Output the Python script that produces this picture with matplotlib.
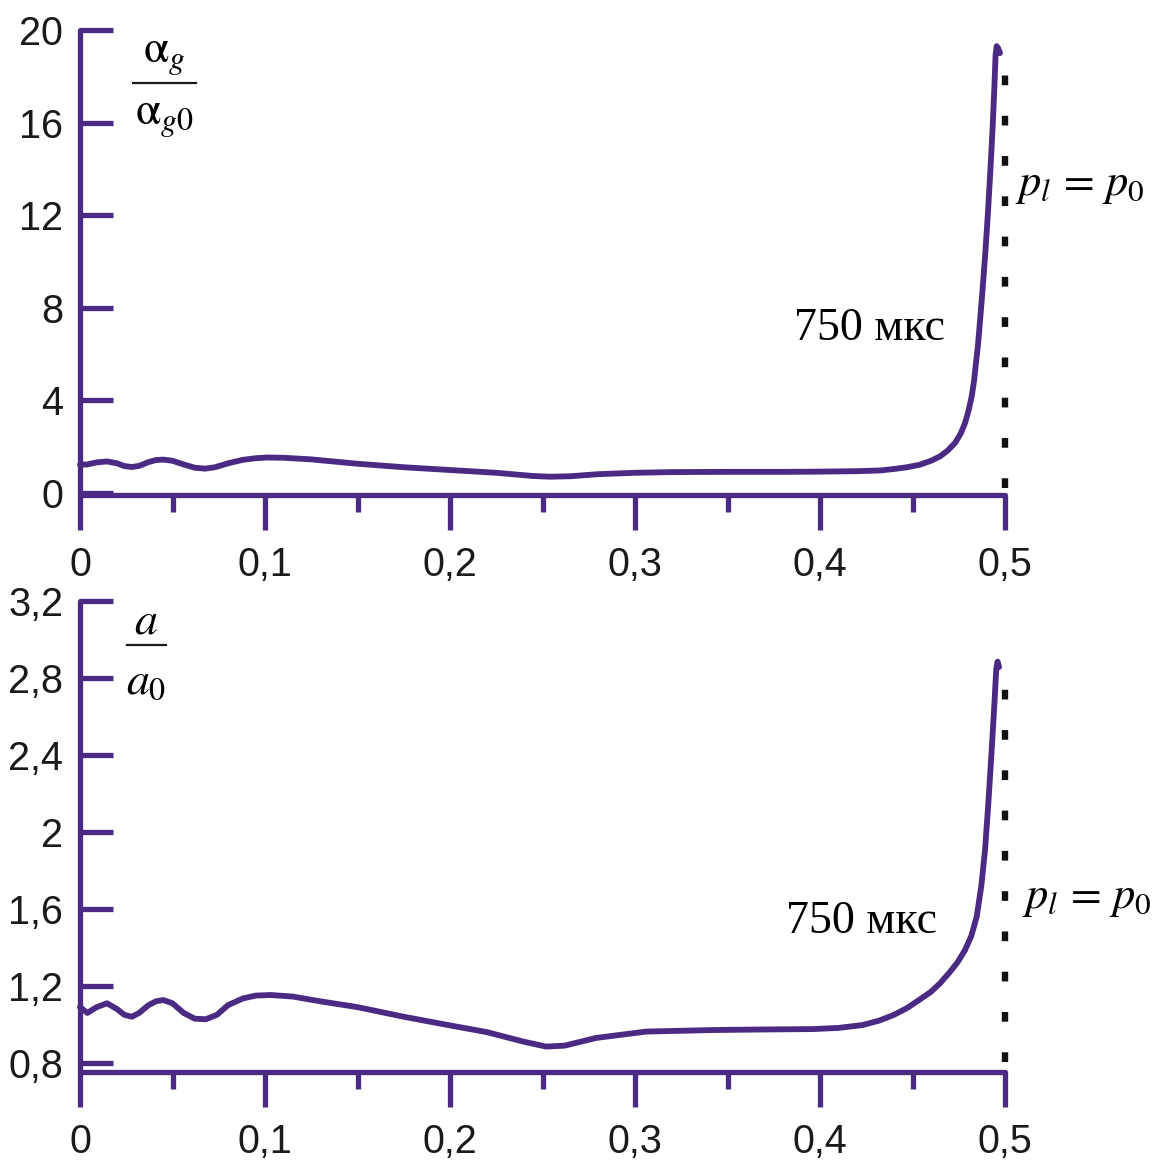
import matplotlib
matplotlib.use("Agg")
import matplotlib.pyplot as plt
from matplotlib.ticker import FixedLocator
from matplotlib.lines import Line2D

plt.rcParams['mathtext.fontset'] = 'stix'
plt.rcParams['lines.scale_dashes'] = False

# ---- data ----
x_top = [0, 0.004, 0.009, 0.0146, 0.020, 0.024, 0.028, 0.032, 0.037, 0.041,
         0.045, 0.050, 0.056, 0.062, 0.0676, 0.073, 0.080, 0.088, 0.095, 0.101,
         0.110, 0.125, 0.15, 0.175, 0.2, 0.225, 0.245, 0.254, 0.265, 0.28,
         0.30, 0.32, 0.35, 0.38, 0.40, 0.42, 0.4324, 0.4396, 0.447, 0.454,
         0.460, 0.4649, 0.469, 0.473, 0.476, 0.4784, 0.4803, 0.482, 0.4833, 0.4843,
         0.4853, 0.4861, 0.4877, 0.4893, 0.4907, 0.4920, 0.4932, 0.4942, 0.4949, 0.4955,
         0.4964, 0.4973]
y_top = [1.21, 1.22, 1.31, 1.35, 1.27, 1.15, 1.11, 1.16, 1.32, 1.41,
         1.43, 1.38, 1.22, 1.08, 1.04, 1.10, 1.27, 1.42, 1.49, 1.52,
         1.51, 1.44, 1.25, 1.10, 0.98, 0.86, 0.72, 0.69, 0.71, 0.80,
         0.86, 0.89, 0.90, 0.90, 0.91, 0.93, 0.96, 1.02, 1.10, 1.21,
         1.38, 1.57, 1.82, 2.15, 2.55, 3.01, 3.55, 4.16, 4.85, 5.6,
         6.3, 7.04, 8.6, 10.3, 12.0, 13.8, 15.6, 17.4, 18.9, 19.3,
         19.2, 19.0]

x_bot = [0, 0.004, 0.009, 0.0146, 0.020, 0.024, 0.028, 0.032, 0.037, 0.041,
         0.045, 0.050, 0.056, 0.062, 0.068, 0.074, 0.080, 0.088, 0.095, 0.103,
         0.115, 0.13, 0.15, 0.175, 0.2, 0.22, 0.24, 0.252, 0.262, 0.279,
         0.306, 0.342, 0.37, 0.396, 0.41, 0.423, 0.432, 0.44, 0.447, 0.454,
         0.460, 0.4649, 0.470, 0.4745, 0.4784, 0.4818, 0.4847, 0.4872, 0.4892, 0.4910,
         0.4928, 0.4943, 0.4953, 0.4960, 0.4968]
y_bot = [1.09, 1.06, 1.09, 1.11, 1.08, 1.05, 1.04, 1.06, 1.10, 1.12,
         1.127, 1.11, 1.06, 1.03, 1.027, 1.05, 1.10, 1.135, 1.15, 1.153,
         1.145, 1.12, 1.09, 1.04, 0.995, 0.96, 0.91, 0.885, 0.89, 0.93,
         0.963, 0.971, 0.974, 0.976, 0.982, 0.997, 1.02, 1.05, 1.085, 1.13,
         1.17, 1.214, 1.27, 1.325, 1.387, 1.46, 1.56, 1.72, 1.906, 2.15,
         2.426, 2.67, 2.85, 2.885, 2.857]

x_major = [0, 0.1, 0.2, 0.3, 0.4, 0.5]
x_major_labels = ['0', '0,1', '0,2', '0,3', '0,4', '0,5']
x_minor = [0.05, 0.15, 0.25, 0.35, 0.45]

y_top_ticks = [0, 4, 8, 12, 16, 20]
y_top_labels = ['0', '4', '8', '12', '16', '20']
y_bot_ticks = [0.8, 1.2, 1.6, 2.0, 2.4, 2.8, 3.2]
y_bot_labels = ['0,8', '1,2', '1,6', '2', '2,4', '2,8', '3,2']

boundary_x = 0.5
top_dash_y = [0.2, 18.4]
bot_dash_y = [0.805, 2.885]

PURPLE = '#4b2a84'
LW = 3.8
W, H = 1154, 1161

fig = plt.figure(figsize=(W / 100, H / 100), dpi=100)
ax1 = fig.add_axes([80 / W, 1 - 495 / H, 925 / W, 465 / H])
ax2 = fig.add_axes([80 / W, 1 - 1072 / H, 925 / W, 471 / H])


def style(ax, yticks, ylabels, ylim):
    ax.set_xlim(0, 0.5)
    ax.set_ylim(*ylim)
    for s in ['top', 'right']:
        ax.spines[s].set_visible(False)
    for s in ['left', 'bottom']:
        ax.spines[s].set_color(PURPLE)
        ax.spines[s].set_linewidth(LW)
        ax.spines[s].set_capstyle('round')
    ax.xaxis.set_major_locator(FixedLocator(x_major))
    ax.set_xticklabels(x_major_labels)
    ax.xaxis.set_minor_locator(FixedLocator(x_minor))
    ax.set_yticks(yticks)
    ax.set_yticklabels(ylabels)
    ax.tick_params(axis='x', which='major', direction='out', length=25,
                   width=LW, color=PURPLE, pad=12, labelsize=28.5)
    ax.tick_params(axis='x', which='minor', direction='out', length=12,
                   width=LW, color=PURPLE)
    ax.tick_params(axis='y', which='major', direction='in', length=24,
                   width=LW, color=PURPLE, pad=12, labelsize=28.5)
    for lab in ax.get_xticklabels() + ax.get_yticklabels():
        lab.set_fontfamily('Liberation Sans')
        lab.set_color('#1a1a1a')
    ax.patch.set_alpha(0)


style(ax1, y_top_ticks, y_top_labels, (-0.1, 20))
style(ax2, y_bot_ticks, y_bot_labels, (0.753, 3.2))

ax1.plot(x_top, y_top, color=PURPLE, lw=4.2, solid_capstyle='round',
         solid_joinstyle='round', clip_on=False, zorder=3)
ax2.plot(x_bot, y_bot, color=PURPLE, lw=4.2, solid_capstyle='round',
         solid_joinstyle='round', clip_on=False, zorder=3)

for ax, yy in [(ax1, top_dash_y), (ax2, bot_dash_y)]:
    ax.plot([boundary_x, boundary_x], yy, color='#111111', lw=4.6,
            dashes=(7, 22), dash_capstyle='butt', clip_on=False, zorder=2)


# fraction labels (numerator, rule, denominator) placed in pixel coordinates
def fpos(px, py):
    return px / W, 1 - py / H


def fraction(num, den, cx, ynum, yline, yden, x0, x1, size):
    fig.text(*fpos(cx, ynum), num, fontsize=size, ha='center', va='center')
    fig.text(*fpos(cx, yden), den, fontsize=size, ha='center', va='center')
    fig.add_artist(Line2D([x0 / W, x1 / W], [1 - yline / H, 1 - yline / H],
                          color='#1a1a1a', lw=1.6, transform=fig.transFigure))


fraction(r'$\mathrm{\alpha}_{g}$', r'$\mathrm{\alpha}_{g0}$',
         164, 55, 83, 118, 133, 196, 33)
fraction(r'$a$', r'$a_0$', 146, 621, 645, 682, 127, 166, 33)

ax1.text(0.4265, 7.1, '750 мкс', fontsize=33, family='Liberation Serif',
         ha='center', va='center')
ax2.text(0.4227, 1.532, '750 мкс', fontsize=33, family='Liberation Serif',
         ha='center', va='center')

ax1.text(0.5054, 13.3, r'$p_l\,=\,p_0$', fontsize=32, ha='left', va='center')
ax2.text(0.509, 1.657, r'$p_l\,=\,p_0$', fontsize=32, ha='left', va='center')

fig.savefig('out.png', dpi=100)
